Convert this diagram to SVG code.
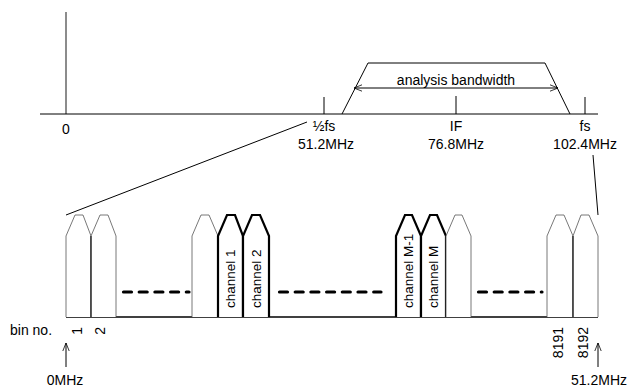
<svg xmlns="http://www.w3.org/2000/svg" width="635" height="388" viewBox="0 0 635 388">
<defs>
<style>
text{font-family:"Liberation Sans",Arial,sans-serif;font-size:14px;fill:#000}
.c{text-anchor:middle}
.cl{font-size:13.5px}
.ln{stroke:#000;stroke-width:1;fill:none}
.bin{stroke:#555;stroke-width:0.8;fill:#fff}
.ch{stroke:#000;stroke-width:2.2;fill:#fff}
.dash{stroke:#000;stroke-width:3.2;stroke-linecap:round;stroke-dasharray:8,7.7}
</style>
<marker id="oa" viewBox="0 0 10 10" refX="10" refY="5" markerWidth="8" markerHeight="8" orient="auto-start-reverse" markerUnits="userSpaceOnUse">
<path d="M0,1 L10,5 L0,9" fill="none" stroke="#000" stroke-width="1"/>
</marker>
</defs>
<rect width="635" height="388" fill="#fff"/>

<g id="spectrum">
<line x1="66" y1="12" x2="66" y2="114" stroke="#666" stroke-width="1.5"/>
<line class="ln" x1="40" y1="114" x2="598" y2="114"/>
<line class="ln" x1="324" y1="97" x2="324" y2="114"/>
<line class="ln" x1="456" y1="96" x2="456" y2="114"/>
<line class="ln" x1="585" y1="97" x2="585" y2="114"/>
<polyline class="ln" points="342,114 368,63 545,63 570,114"/>
<text class="c" x="66" y="134">0</text>
<text class="c" x="324" y="131">½fs</text>
<text class="c" x="326" y="149">51.2MHz</text>
<text class="c" x="456" y="131">IF</text>
<text class="c" x="456" y="149">76.8MHz</text>
<text class="c" x="585" y="131">fs</text>
<text class="c" x="585" y="149">102.4MHz</text>
<text class="c" x="456" y="85">analysis bandwidth</text>
</g>

<g id="bins">
<line x1="66" y1="317" x2="598" y2="317" stroke="#000" stroke-width="1.5"/>
<path class="bin" d="M66,317 V236 L75,215 H83 L91,236 V317"/>
<path class="bin" d="M91,317 V236 L100,215 H108 L116,236 V317"/>
<line x1="91" y1="236" x2="91" y2="317" stroke="#000" stroke-width="1"/>
<path class="bin" d="M192,317 V236 L201,215 H209 L218,236 V317"/>
<path class="ch" d="M218,317 V236 L227,215 H235 L243,236 V317"/>
<path class="ch" d="M243,317 V236 L252,215 H260 L269,236 V317"/>
<path class="ch" d="M396,317 V236 L405,215 H412 L421,236 V317"/>
<path class="ch" d="M421,317 V236 L430,215 H437 L446,236 V317"/>
<path class="bin" d="M446,317 V236 L455,215 H462 L471,236 V317"/>
<path class="bin" d="M547,317 V236 L556,215 H564 L573,236 V317"/>
<path class="bin" d="M573,317 V236 L581,215 H589 L598,236 V317"/>
<line x1="573" y1="236" x2="573" y2="317" stroke="#000" stroke-width="1"/>
<text class="cl" transform="translate(235,308) rotate(-90)">channel 1</text>
<text class="cl" transform="translate(261,308) rotate(-90)">channel 2</text>
<text class="cl" transform="translate(413,308) rotate(-90)">channel M-1</text>
<text class="cl" transform="translate(438,308) rotate(-90)">channel M</text>
<text x="10" y="335">bin no.</text>
<text transform="translate(82,327) rotate(-90)" text-anchor="end">1</text>
<text transform="translate(105,327) rotate(-90)" text-anchor="end">2</text>
<text transform="translate(563,327) rotate(-90)" text-anchor="end">8191</text>
<text transform="translate(588,327) rotate(-90)" text-anchor="end">8192</text>
<text class="c" x="65" y="385">0MHz</text>
<text x="571" y="385">51.2MHz</text>
</g>

<g id="connectors">
<line class="ln" x1="354" y1="88" x2="558" y2="88" marker-start="url(#oa)" marker-end="url(#oa)"/>
<line class="ln" x1="66" y1="215" x2="307" y2="122" stroke-width="0.8"/>
<line class="ln" x1="593" y1="155" x2="598" y2="215" stroke-width="0.8"/>
<line class="dash" x1="123.5" y1="292" x2="189" y2="292"/>
<line class="dash" x1="279.5" y1="292" x2="381" y2="292"/>
<line class="dash" x1="478.5" y1="292" x2="542" y2="292"/>
<line class="ln" x1="66" y1="367" x2="66" y2="343" marker-end="url(#oa)"/>
<line class="ln" x1="598" y1="367" x2="598" y2="343" marker-end="url(#oa)"/>
</g>
</svg>
